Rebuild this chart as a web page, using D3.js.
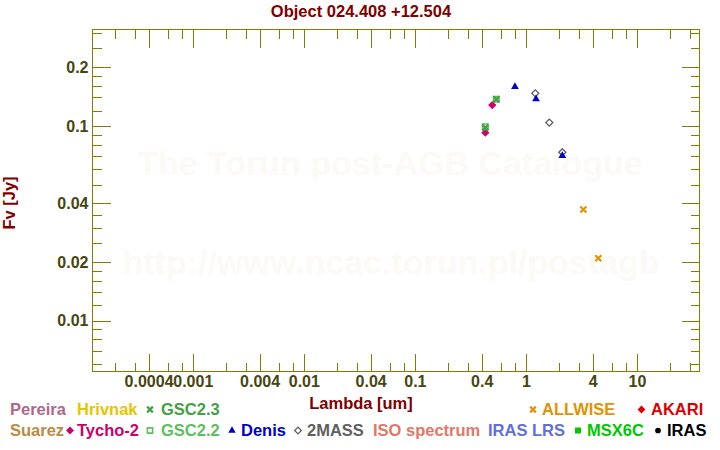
<!DOCTYPE html>
<html>
<head>
<meta charset="utf-8">
<script src="https://cdn.jsdelivr.net/npm/d3@7"></script>
<style>
body { margin: 0; background: #fff; }
svg text { font-family: "Liberation Sans", Arial, sans-serif; font-weight: bold; }
</style>
</head>
<body>
<svg width="720" height="450"></svg>
<script>
// photometry: wavelength in um, flux in Jy
var tychoLambda = [0.431, 0.498];
var tychoFlux = [0.0923, 0.128];
var gsc22Lambda = [0.431, 0.541];
var gsc22Flux = [0.099, 0.137];
var gsc23Lambda = [0.431, 0.541];
var gsc23Flux = [0.098, 0.137];
var denisLambda = [0.797, 1.233, 2.128];
var denisFlux = [0.159, 0.1375, 0.0703];
var twomassLambda = [1.215, 1.625, 2.128];
var twomassFlux = [0.147, 0.104, 0.0732];
var allwiseLambda = [3.29, 4.49];
var allwiseFlux = [0.0372, 0.0209];

// axis ticks
var xTicks = [0.0004, 0.001, 0.004, 0.01, 0.04, 0.1, 0.4, 1, 4, 10];
var xTickLabels = ["0.0004", "0.001", "0.004", "0.01", "0.04", "0.1", "0.4", "1", "4", "10"];
var xMinorTicks = [0.0002, 0.0003, 0.0006, 0.0008, 0.002, 0.003, 0.006, 0.008,
  0.02, 0.03, 0.06, 0.08, 0.2, 0.3, 0.6, 0.8, 2, 3, 6, 8, 20, 30];
var yTicks = [0.01, 0.02, 0.04, 0.1, 0.2];
var yTickLabels = ["0.01", "0.02", "0.04", "0.1", "0.2"];
var yMinorTicks = [0.006, 0.007, 0.008, 0.009, 0.012, 0.014, 0.016, 0.018,
  0.025, 0.03, 0.035, 0.05, 0.06, 0.07, 0.08, 0.09, 0.12, 0.14, 0.16, 0.18, 0.25, 0.3];

// legend categories, two rows
var legendRow1 = ["Pereira", "Hrivnak", "GSC2.3", "ALLWISE", "AKARI"];
var legendRow2 = ["Suarez", "Tycho-2", "GSC2.2", "Denis", "2MASS", "ISO spectrum", "IRAS LRS", "MSX6C", "IRAS"];

// styles for each catalogue
var catStyle = {
  "Pereira":      {color: "#b06888", sym: null},
  "Hrivnak":      {color: "#e6c400", sym: null},
  "GSC2.3":       {color: "#44a044", sym: "cross"},
  "ALLWISE":      {color: "#e09400", sym: "cross"},
  "AKARI":        {color: "#dd0000", sym: "diamond"},
  "Suarez":       {color: "#c08840", sym: null},
  "Tycho-2":      {color: "#cc0066", sym: "diamond"},
  "GSC2.2":       {color: "#5cc05c", sym: "square-open"},
  "Denis":        {color: "#0000c8", sym: "triangle"},
  "2MASS":        {color: "#606060", sym: "diamond-open"},
  "ISO spectrum": {color: "#e07868", sym: null},
  "IRAS LRS":     {color: "#6070d8", sym: null},
  "MSX6C":        {color: "#00c800", sym: "square"},
  "IRAS":         {color: "#000000", sym: "circle"}
};
// legend layout: text start and marker centre
var legendTextX = {"Pereira": 10, "Hrivnak": 77, "GSC2.3": 161, "ALLWISE": 542, "AKARI": 651,
  "Suarez": 10, "Tycho-2": 77, "GSC2.2": 161, "Denis": 241, "2MASS": 307,
  "ISO spectrum": 373, "IRAS LRS": 488, "MSX6C": 587, "IRAS": 667};
var legendMarkX = {"GSC2.3": 150, "ALLWISE": 533, "AKARI": 641.5, "Tycho-2": 70, "GSC2.2": 150,
  "Denis": 232, "2MASS": 298, "MSX6C": 578, "IRAS": 658};

var svg = d3.select("svg"),
  box = {left: 92.5, right: 699.5, top: 29.5, bottom: 371.5};

var olive = "#808000", labelColor = "#46460f", maroon = "#800000";

var x = d3.scaleLog().domain([1.25e-4, 36.6]).range([box.left, box.right]);
var y = d3.scaleLog().domain([0.00547, 0.313]).range([box.bottom, box.top]);

// watermark
svg.append("text").attr("x", 390).attr("y", 175).attr("text-anchor", "middle")
  .attr("font-size", 34).attr("fill", "#fbfaf6").text("The Torun post-AGB Catalogue");
svg.append("text").attr("x", 391).attr("y", 274).attr("text-anchor", "middle")
  .attr("font-size", 34).attr("fill", "#fbfaf6").text("http://www.ncac.torun.pl/postagb");

// title
svg.append("text").attr("x", 361).attr("y", 17).attr("text-anchor", "middle")
  .attr("font-size", 16.5).attr("fill", maroon).text("Object 024.408 +12.504");

function styleAxis(g) {
  g.attr("font-size", null).attr("font-family", null);
  g.select(".domain").remove();
  g.selectAll("line").attr("stroke", olive).attr("shape-rendering", "crispEdges");
  g.selectAll("text").attr("fill", labelColor).attr("font-size", 16);
}

// major ticks (labelled on bottom and left) and minor ticks, on all four sides
svg.append("g").attr("transform", "translate(0," + box.bottom + ")")
  .call(d3.axisBottom(x).tickValues(xTicks).tickFormat(function(d, i) { return xTickLabels[i]; })
    .tickSize(-18).tickSizeOuter(0).tickPadding(4))
  .call(styleAxis);
svg.append("g").attr("transform", "translate(0," + box.bottom + ")")
  .call(d3.axisBottom(x).tickValues(xMinorTicks).tickFormat("").tickSize(-9).tickSizeOuter(0))
  .call(styleAxis);
svg.append("g").attr("transform", "translate(0," + box.top + ")")
  .call(d3.axisTop(x).tickValues(xTicks).tickFormat("").tickSize(-18).tickSizeOuter(0))
  .call(styleAxis);
svg.append("g").attr("transform", "translate(0," + box.top + ")")
  .call(d3.axisTop(x).tickValues(xMinorTicks).tickFormat("").tickSize(-9).tickSizeOuter(0))
  .call(styleAxis);
svg.append("g").attr("transform", "translate(" + box.left + ",0)")
  .call(d3.axisLeft(y).tickValues(yTicks).tickFormat(function(d, i) { return yTickLabels[i]; })
    .tickSize(-18).tickSizeOuter(0).tickPadding(4))
  .call(styleAxis);
svg.append("g").attr("transform", "translate(" + box.left + ",0)")
  .call(d3.axisLeft(y).tickValues(yMinorTicks).tickFormat("").tickSize(-9).tickSizeOuter(0))
  .call(styleAxis);
svg.append("g").attr("transform", "translate(" + box.right + ",0)")
  .call(d3.axisRight(y).tickValues(yTicks).tickFormat("").tickSize(-18).tickSizeOuter(0))
  .call(styleAxis);
svg.append("g").attr("transform", "translate(" + box.right + ",0)")
  .call(d3.axisRight(y).tickValues(yMinorTicks).tickFormat("").tickSize(-9).tickSizeOuter(0))
  .call(styleAxis);

// frame
svg.append("rect").attr("x", box.left).attr("y", box.top)
  .attr("width", box.right - box.left).attr("height", box.bottom - box.top)
  .attr("fill", "none").attr("stroke", olive).attr("shape-rendering", "crispEdges");

// axis titles
svg.append("text").attr("x", 361).attr("y", 409).attr("text-anchor", "middle")
  .attr("font-size", 16.5).attr("fill", maroon).text("Lambda [um]");
svg.append("text").attr("transform", "translate(15,203) rotate(-90)").attr("text-anchor", "middle")
  .attr("font-size", 16.5).attr("fill", maroon).text("Fv [Jy]");

// marker drawing
function drawMarker(sel, sym, color, k) {
  k = k || 1;
  if (sym === "cross") {
    var a = 3 * k;
    sel.append("path").attr("d", "M" + -a + "," + -a + "L" + a + "," + a + "M" + -a + "," + a + "L" + a + "," + -a)
      .attr("stroke", color).attr("stroke-width", 2.2).attr("fill", "none");
  } else if (sym === "diamond") {
    sel.append("path").attr("d", d3.symbol(d3.symbolSquare, 34 * k * k)).attr("transform", "rotate(45)")
      .attr("fill", color);
  } else if (sym === "diamond-open") {
    sel.append("path").attr("d", d3.symbol(d3.symbolSquare, 25 * k * k)).attr("transform", "rotate(45)")
      .attr("fill", "none").attr("stroke", color).attr("stroke-width", 1.3);
  } else if (sym === "square") {
    sel.append("path").attr("d", d3.symbol(d3.symbolSquare, 40 * k * k)).attr("fill", color);
  } else if (sym === "square-open") {
    sel.append("path").attr("d", d3.symbol(d3.symbolSquare, 30 * k * k))
      .attr("fill", "none").attr("stroke", color).attr("stroke-width", 1.6);
  } else if (sym === "triangle") {
    sel.append("path").attr("d", d3.symbol(d3.symbolTriangle, 26 * k * k)).attr("fill", color);
  } else if (sym === "circle") {
    sel.append("circle").attr("r", 3 * k).attr("fill", color);
  }
}

function plotSeries(name, lambdas, fluxes) {
  var pts = lambdas.map(function(l, i) { return {l: l, f: fluxes[i]}; });
  svg.append("g").selectAll("g").data(pts).enter().append("g")
    .attr("transform", function(d) { return "translate(" + x(d.l) + "," + y(d.f) + ")"; })
    .each(function() { drawMarker(d3.select(this), catStyle[name].sym, catStyle[name].color); });
}

plotSeries("Tycho-2", tychoLambda, tychoFlux);
plotSeries("GSC2.2", gsc22Lambda, gsc22Flux);
plotSeries("GSC2.3", gsc23Lambda, gsc23Flux);
plotSeries("2MASS", twomassLambda, twomassFlux);
plotSeries("Denis", denisLambda, denisFlux);
plotSeries("ALLWISE", allwiseLambda, allwiseFlux);

// legend
function drawLegendRow(names, baseline) {
  names.forEach(function(n) {
    var st = catStyle[n];
    if (st.sym) {
      var g = svg.append("g").attr("transform", "translate(" + legendMarkX[n] + "," + (baseline - 5.5) + ")");
      drawMarker(g, st.sym, st.color, 0.95);
    }
    svg.append("text").attr("x", legendTextX[n]).attr("y", baseline)
      .attr("font-size", 16.5).attr("fill", st.color).text(n);
  });
}
drawLegendRow(legendRow1, 415);
drawLegendRow(legendRow2, 436);
</script>
</body>
</html>
